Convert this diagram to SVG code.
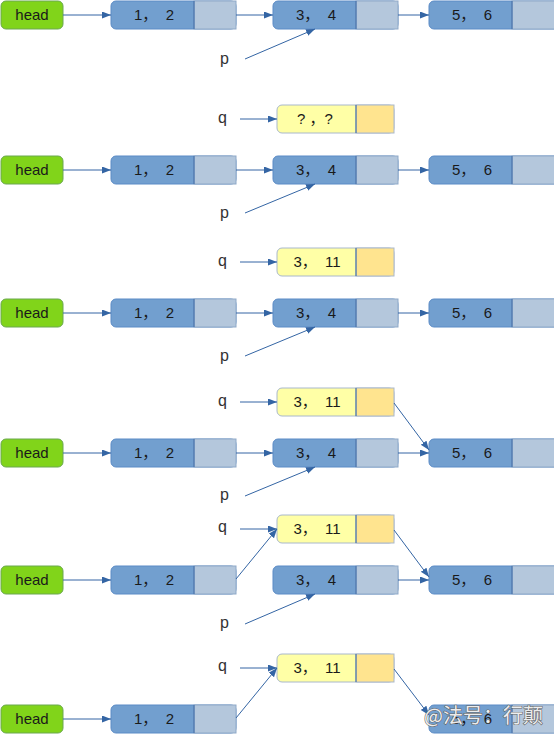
<svg xmlns="http://www.w3.org/2000/svg" width="554" height="734" viewBox="0 0 554 734">
<style>
.head rect{fill:#81d41a;stroke:#6aa84f;stroke-width:1}
.nd{fill:#729fcf;stroke:#5b8bc6;stroke-width:1}
.lt{fill:#b4c7dc;stroke:#8fa9c8;stroke-width:1}
.dv{stroke:#3465a4;stroke-width:1}
.qd{fill:#ffffa6;stroke:#a9b8cc;stroke-width:1}
.ql{fill:#ffe48f;stroke:#a9b8cc;stroke-width:1}
.t{font-family:"Liberation Sans","Noto Sans CJK SC",sans-serif;font-size:15px;fill:#1a1a1a;text-anchor:middle}
.lbl{font-family:"Liberation Sans",sans-serif;font-size:16px;fill:#333}
.c line{stroke:#3465a4;stroke-width:1;marker-end:url(#ah)}
.wm{font-family:"Noto Sans CJK SC",sans-serif;font-size:20px;fill:#ffffff;fill-opacity:0.9;stroke:#666;stroke-width:1.2;paint-order:stroke}
</style>
<defs>
<marker id="ah" markerUnits="userSpaceOnUse" markerWidth="10" markerHeight="8" refX="9" refY="3.5" orient="auto">
<path d="M0,0 L9,3.5 L0,7 z" fill="#3465a4"/>
</marker>
</defs>

<!-- Row 1 -->
<g id="r1-head" class="head" transform="translate(0,15)"><rect x="1" y="-14" width="62" height="28" rx="5"/><text class="t" x="32" y="5">head</text></g>
<g id="r1-n1" transform="translate(111,15)"><rect class="nd" x="0" y="-14" width="125" height="28" rx="5"/><rect class="lt" x="83" y="-14" width="42" height="28"/><line class="dv" x1="83" y1="-14" x2="83" y2="14"/><text class="t" x="43" y="5">1，&#160;&#160;2</text></g>
<g id="r1-n2" transform="translate(273,15)"><rect class="nd" x="0" y="-14" width="125" height="28" rx="5"/><rect class="lt" x="83" y="-14" width="42" height="28"/><line class="dv" x1="83" y1="-14" x2="83" y2="14"/><text class="t" x="43" y="5">3，&#160;&#160;4</text></g>
<g id="r1-n3" transform="translate(429,15)"><rect class="nd" x="0" y="-14" width="130" height="28" rx="5"/><rect class="lt" x="83" y="-14" width="47" height="28"/><line class="dv" x1="83" y1="-14" x2="83" y2="14"/><text class="t" x="43" y="5">5，&#160;&#160;6</text></g>
<g id="r1-p"><text class="lbl" x="220" y="64">p</text></g>

<!-- Row 2 -->
<g id="r2-q"><text class="lbl" x="218" y="123">q</text></g>
<g id="r2-qn" transform="translate(277,119)"><rect class="qd" x="0" y="-14" width="117" height="28" rx="5"/><rect class="ql" x="79" y="-14" width="38" height="28"/><line class="dv" x1="79" y1="-14" x2="79" y2="14"/><text class="t" x="38" y="5">? ，?</text></g>
<g id="r2-head" class="head" transform="translate(0,170)"><rect x="1" y="-14" width="62" height="28" rx="5"/><text class="t" x="32" y="5">head</text></g>
<g id="r2-n1" transform="translate(111,170)"><rect class="nd" x="0" y="-14" width="125" height="28" rx="5"/><rect class="lt" x="83" y="-14" width="42" height="28"/><line class="dv" x1="83" y1="-14" x2="83" y2="14"/><text class="t" x="43" y="5">1，&#160;&#160;2</text></g>
<g id="r2-n2" transform="translate(273,170)"><rect class="nd" x="0" y="-14" width="125" height="28" rx="5"/><rect class="lt" x="83" y="-14" width="42" height="28"/><line class="dv" x1="83" y1="-14" x2="83" y2="14"/><text class="t" x="43" y="5">3，&#160;&#160;4</text></g>
<g id="r2-n3" transform="translate(429,170)"><rect class="nd" x="0" y="-14" width="130" height="28" rx="5"/><rect class="lt" x="83" y="-14" width="47" height="28"/><line class="dv" x1="83" y1="-14" x2="83" y2="14"/><text class="t" x="43" y="5">5，&#160;&#160;6</text></g>
<g id="r2-p"><text class="lbl" x="220" y="218">p</text></g>

<!-- Row 3 -->
<g id="r3-q"><text class="lbl" x="218" y="266">q</text></g>
<g id="r3-qn" transform="translate(277,262)"><rect class="qd" x="0" y="-14" width="117" height="28" rx="5"/><rect class="ql" x="79" y="-14" width="38" height="28"/><line class="dv" x1="79" y1="-14" x2="79" y2="14"/><text class="t" x="40" y="5">3，&#160;&#160;11</text></g>
<g id="r3-head" class="head" transform="translate(0,313)"><rect x="1" y="-14" width="62" height="28" rx="5"/><text class="t" x="32" y="5">head</text></g>
<g id="r3-n1" transform="translate(111,313)"><rect class="nd" x="0" y="-14" width="125" height="28" rx="5"/><rect class="lt" x="83" y="-14" width="42" height="28"/><line class="dv" x1="83" y1="-14" x2="83" y2="14"/><text class="t" x="43" y="5">1，&#160;&#160;2</text></g>
<g id="r3-n2" transform="translate(273,313)"><rect class="nd" x="0" y="-14" width="125" height="28" rx="5"/><rect class="lt" x="83" y="-14" width="42" height="28"/><line class="dv" x1="83" y1="-14" x2="83" y2="14"/><text class="t" x="43" y="5">3，&#160;&#160;4</text></g>
<g id="r3-n3" transform="translate(429,313)"><rect class="nd" x="0" y="-14" width="130" height="28" rx="5"/><rect class="lt" x="83" y="-14" width="47" height="28"/><line class="dv" x1="83" y1="-14" x2="83" y2="14"/><text class="t" x="43" y="5">5，&#160;&#160;6</text></g>
<g id="r3-p"><text class="lbl" x="220" y="361">p</text></g>

<!-- Row 4 -->
<g id="r4-q"><text class="lbl" x="218" y="406">q</text></g>
<g id="r4-qn" transform="translate(277,402)"><rect class="qd" x="0" y="-14" width="117" height="28" rx="5"/><rect class="ql" x="79" y="-14" width="38" height="28"/><line class="dv" x1="79" y1="-14" x2="79" y2="14"/><text class="t" x="40" y="5">3，&#160;&#160;11</text></g>
<g id="r4-head" class="head" transform="translate(0,453)"><rect x="1" y="-14" width="62" height="28" rx="5"/><text class="t" x="32" y="5">head</text></g>
<g id="r4-n1" transform="translate(111,453)"><rect class="nd" x="0" y="-14" width="125" height="28" rx="5"/><rect class="lt" x="83" y="-14" width="42" height="28"/><line class="dv" x1="83" y1="-14" x2="83" y2="14"/><text class="t" x="43" y="5">1，&#160;&#160;2</text></g>
<g id="r4-n2" transform="translate(273,453)"><rect class="nd" x="0" y="-14" width="125" height="28" rx="5"/><rect class="lt" x="83" y="-14" width="42" height="28"/><line class="dv" x1="83" y1="-14" x2="83" y2="14"/><text class="t" x="43" y="5">3，&#160;&#160;4</text></g>
<g id="r4-n3" transform="translate(429,453)"><rect class="nd" x="0" y="-14" width="130" height="28" rx="5"/><rect class="lt" x="83" y="-14" width="47" height="28"/><line class="dv" x1="83" y1="-14" x2="83" y2="14"/><text class="t" x="43" y="5">5，&#160;&#160;6</text></g>
<g id="r4-p"><text class="lbl" x="220" y="500">p</text></g>

<!-- Row 5 -->
<g id="r5-q"><text class="lbl" x="218" y="532">q</text></g>
<g id="r5-qn" transform="translate(277,529)"><rect class="qd" x="0" y="-14" width="117" height="28" rx="5"/><rect class="ql" x="79" y="-14" width="38" height="28"/><line class="dv" x1="79" y1="-14" x2="79" y2="14"/><text class="t" x="40" y="5">3，&#160;&#160;11</text></g>
<g id="r5-head" class="head" transform="translate(0,580)"><rect x="1" y="-14" width="62" height="28" rx="5"/><text class="t" x="32" y="5">head</text></g>
<g id="r5-n1" transform="translate(111,580)"><rect class="nd" x="0" y="-14" width="125" height="28" rx="5"/><rect class="lt" x="83" y="-14" width="42" height="28"/><line class="dv" x1="83" y1="-14" x2="83" y2="14"/><text class="t" x="43" y="5">1，&#160;&#160;2</text></g>
<g id="r5-n2" transform="translate(273,580)"><rect class="nd" x="0" y="-14" width="125" height="28" rx="5"/><rect class="lt" x="83" y="-14" width="42" height="28"/><line class="dv" x1="83" y1="-14" x2="83" y2="14"/><text class="t" x="43" y="5">3，&#160;&#160;4</text></g>
<g id="r5-n3" transform="translate(429,580)"><rect class="nd" x="0" y="-14" width="130" height="28" rx="5"/><rect class="lt" x="83" y="-14" width="47" height="28"/><line class="dv" x1="83" y1="-14" x2="83" y2="14"/><text class="t" x="43" y="5">5，&#160;&#160;6</text></g>
<g id="r5-p"><text class="lbl" x="220" y="628">p</text></g>

<!-- Row 6 -->
<g id="r6-q"><text class="lbl" x="218" y="671">q</text></g>
<g id="r6-qn" transform="translate(277,668)"><rect class="qd" x="0" y="-14" width="117" height="28" rx="5"/><rect class="ql" x="79" y="-14" width="38" height="28"/><line class="dv" x1="79" y1="-14" x2="79" y2="14"/><text class="t" x="40" y="5">3，&#160;&#160;11</text></g>
<g id="r6-head" class="head" transform="translate(0,719)"><rect x="1" y="-14" width="62" height="28" rx="5"/><text class="t" x="32" y="5">head</text></g>
<g id="r6-n1" transform="translate(111,719)"><rect class="nd" x="0" y="-14" width="125" height="28" rx="5"/><rect class="lt" x="83" y="-14" width="42" height="28"/><line class="dv" x1="83" y1="-14" x2="83" y2="14"/><text class="t" x="43" y="5">1，&#160;&#160;2</text></g>
<g id="r6-n3" transform="translate(429,719)"><rect class="nd" x="0" y="-14" width="130" height="28" rx="5"/><rect class="lt" x="83" y="-14" width="47" height="28"/><line class="dv" x1="83" y1="-14" x2="83" y2="14"/><text class="t" x="43" y="5">5，&#160;&#160;6</text></g>

<g id="connectors" class="c">
<line x1="63" y1="15" x2="111" y2="15"/>
<line x1="236" y1="15" x2="273" y2="15"/>
<line x1="398" y1="15" x2="429" y2="15"/>
<line x1="245" y1="59" x2="315" y2="29"/>

<line x1="240" y1="119" x2="277" y2="119"/>
<line x1="63" y1="170" x2="111" y2="170"/>
<line x1="236" y1="170" x2="273" y2="170"/>
<line x1="398" y1="170" x2="429" y2="170"/>
<line x1="245" y1="213" x2="315" y2="184"/>

<line x1="240" y1="262" x2="277" y2="262"/>
<line x1="63" y1="313" x2="111" y2="313"/>
<line x1="236" y1="313" x2="273" y2="313"/>
<line x1="398" y1="313" x2="429" y2="313"/>
<line x1="245" y1="356" x2="315" y2="327"/>

<line x1="240" y1="402" x2="277" y2="402"/>
<line x1="394" y1="403" x2="429" y2="450"/>
<line x1="63" y1="453" x2="111" y2="453"/>
<line x1="236" y1="453" x2="273" y2="453"/>
<line x1="398" y1="453" x2="429" y2="453"/>
<line x1="245" y1="496" x2="315" y2="467"/>

<line x1="240" y1="529" x2="277" y2="529"/>
<line x1="236" y1="579" x2="277" y2="529"/>
<line x1="394" y1="530" x2="429" y2="577"/>
<line x1="63" y1="580" x2="111" y2="580"/>
<line x1="398" y1="580" x2="429" y2="580"/>
<line x1="245" y1="624" x2="315" y2="594"/>

<line x1="240" y1="668" x2="277" y2="668"/>
<line x1="236" y1="718" x2="277" y2="668"/>
<line x1="394" y1="669" x2="429" y2="715"/>
<line x1="63" y1="719" x2="111" y2="719"/>
</g>

<text class="wm" x="424" y="723">@法号：行颠</text>
</svg>
